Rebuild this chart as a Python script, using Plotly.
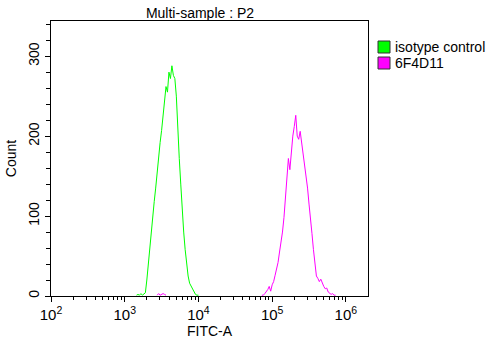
import plotly.graph_objects as go

# ---- data ----
series_names = ["isotype control", "6F4D11"]
series_colors = ["#00ff00", "#ff00ff"]

# log10(FITC-A) bin positions and counts
iso_log = [3.16, 3.18, 3.20, 3.22, 3.24, 3.26, 3.28, 3.30, 3.32, 3.34, 3.36, 3.38, 3.40,
           3.42, 3.44, 3.46, 3.48, 3.50, 3.52, 3.54, 3.56, 3.58, 3.60, 3.62, 3.64,
           3.66, 3.68, 3.70, 3.72, 3.74, 3.76, 3.78, 3.80, 3.82, 3.84, 3.86, 3.88,
           3.90, 3.92, 3.94, 3.96, 3.98, 4.00]
iso_count = [1, 2, 1, 3, 1, 2, 4, 20, 41, 60, 75, 95, 118,
             135, 155, 178, 192, 207, 228, 240, 262, 255, 280, 272, 288,
             276, 272, 250, 205, 172, 140, 105, 80, 58, 40, 25, 16,
             12, 8, 4, 2, 1, 1]

ab_log = [3.44, 3.46, 3.48, 3.50, 3.52, 3.54, 3.56, None,
          4.86, 4.88, 4.90, 4.92, 4.94, 4.96, 4.98, 5.00, 5.02, 5.04, 5.06, 5.08,
          5.10, 5.12, 5.14, 5.16, 5.18, 5.20, 5.22, 5.24, 5.26, 5.28, 5.30, 5.32,
          5.34, 5.36, 5.38, 5.40, 5.42, 5.44, 5.46, 5.48, 5.50, 5.52, 5.54, 5.56,
          5.58, 5.60, 5.62, 5.64, 5.66, 5.68, 5.70, 5.72, 5.74, 5.76, 5.78, 5.80,
          5.82, 5.84, 5.86]
ab_count = [1, 3, 1, 2, 3, 2, 1, None,
            1, 1, 3, 5, 8, 12, 6, 14, 18, 26, 33, 42,
            55, 66, 80, 98, 125, 150, 172, 158, 185, 200, 212, 226,
            200, 196, 206, 192, 182, 165, 152, 135, 115, 100, 78, 58,
            36, 25, 22, 18, 21, 15, 12, 9, 10, 5, 3, 2,
            3, 1, 1]

x_tick_exps = [2, 3, 4, 5, 6]
y_major_ticks = [0, 100, 200, 300]

# ---- figure ----
def to_lin(vals):
    return [None if v is None else 10 ** v for v in vals]

fig = go.Figure()
for name, color, lx, cy in [(series_names[0], series_colors[0], iso_log, iso_count),
                            (series_names[1], series_colors[1], ab_log, ab_count)]:
    fig.add_trace(go.Scatter(x=to_lin(lx), y=cy, mode="lines", name=name,
                             line=dict(color=color, width=1), showlegend=False,
                             connectgaps=False))

minor_x = [m * 10 ** e for e in range(2, 7) for m in range(2, 10)]

font = "Liberation Sans, Arial, sans-serif"
fig.update_layout(
    width=493, height=340,
    margin=dict(l=51, r=125, t=21, b=44, autoexpand=False),
    paper_bgcolor="white", plot_bgcolor="white",
    font=dict(family=font, size=14, color="black"),
    title=dict(text="Multi-sample : P2", x=(200 - 51) / 317, xref="paper",
               xanchor="center", y=1 - 13 / 340, yref="container", yanchor="middle",
               font=dict(size=14, color="black")),
    xaxis=dict(type="log", range=[2, 6.3], showgrid=False, zeroline=False,
               automargin=False,
               showline=True, linecolor="black", linewidth=1, mirror=True,
               ticks="outside", ticklen=5, tickcolor="black",
               tickmode="array", tickvals=[10 ** e for e in x_tick_exps],
               ticktext=[f"10<sup>{e}</sup>" for e in x_tick_exps],
               tickfont=dict(size=15),
               minor=dict(tickmode="array", tickvals=minor_x, ticks="outside",
                          ticklen=3, tickcolor="black", showgrid=False),
               title=dict(text="FITC-A", standoff=2, font=dict(size=14))),
    yaxis=dict(range=[0, 344], showgrid=False, zeroline=False,
               automargin=False,
               showline=True, linecolor="black", linewidth=1, mirror=True,
               ticks="outside", ticklen=5, tickcolor="black",
               tickmode="array", tickvals=y_major_ticks, tickangle=-90,
               tickfont=dict(size=14),
               minor=dict(dtick=20, tick0=0, ticks="outside", ticklen=4,
                          tickcolor="black", showgrid=False),
               title=dict(text="Count", standoff=6, font=dict(size=14))),
)

# legend drawn as swatches + labels to the right of the plot
legend_rows_px = [47, 63]
for name, color, yc in zip(series_names, series_colors, legend_rows_px):
    y0 = (296 - (yc + 6)) / 275
    y1 = (296 - (yc - 6)) / 275
    fig.add_shape(type="rect", xref="paper", yref="paper",
                  x0=(378 - 51) / 317, x1=(390 - 51) / 317, y0=y0, y1=y1,
                  fillcolor=color, line=dict(color="#333333", width=1))
    fig.add_annotation(text=name, xref="paper", yref="paper",
                       x=(393 - 51) / 317, y=(296 - yc) / 275,
                       xanchor="left", yanchor="middle", showarrow=False,
                       font=dict(size=14, color="black"))

fig.write_html("out.html")
